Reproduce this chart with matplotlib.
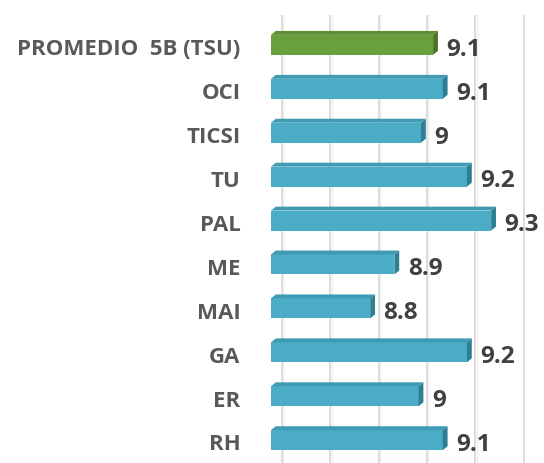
import numpy as np
import matplotlib
matplotlib.use("Agg")
import matplotlib.pyplot as plt
from matplotlib.patches import Polygon

categories = ["PROMEDIO  5B (TSU)", "OCI", "TICSI", "TU", "PAL", "ME", "MAI", "GA", "ER", "RH"]
values = [9.07, 9.11, 9.02, 9.21, 9.31, 8.91, 8.81, 9.21, 9.01, 9.11]
labels = ["9.1", "9.1", "9", "9.2", "9.3", "8.9", "8.8", "9.2", "9", "9.1"]

x_min, x_max = 8.4, 9.45
grid_ticks = [8.4, 8.6, 8.8, 9.0, 9.2, 9.4]

teal = ("#4BACC6", "#3F9AB3", "#2F7F94")    # front, top, side
green = ("#6A9F3E", "#5E8F35", "#4B7429")

fig = plt.figure(figsize=(5.44, 4.63), dpi=100)
ax = fig.add_axes([271 / 544, 0 / 463, 254 / 544, 448 / 463])
ax.set_xlim(x_min, x_max)
ax.set_ylim(-0.52, 9.68)

# back-wall gridlines (shifted for the 3d look)
grid_shift = 0.045
for g in grid_ticks:
    ax.axvline(g + grid_shift, color="#D9D9D9", lw=1.3, zorder=0)
    ax.axvline(g + grid_shift + 0.006, color="#EEEEEE", lw=1.0, zorder=0)

n = len(categories)
ypos = np.arange(n)[::-1]
h = 0.455
dx, dy = 0.02, 0.09
lab_drop = 0.11
font = ["Open Sans", "DejaVu Sans"]

for i, (v, y) in enumerate(zip(values, ypos)):
    front, top, side = green if i == 0 else teal
    ax.barh(y, v - x_min, left=x_min, height=h, color=front, zorder=3)
    y_top = y + h / 2
    y_bot = y - h / 2
    ax.add_patch(Polygon([(x_min, y_top), (v, y_top), (v + dx, y_top + dy),
                          (x_min + dx, y_top + dy)], closed=True,
                         facecolor=top, edgecolor="none", zorder=3))
    ax.add_patch(Polygon([(v, y_bot), (v + dx, y_bot + dy), (v + dx, y_top + dy),
                          (v, y_top)], closed=True,
                         facecolor=side, edgecolor="none", zorder=3))
    ax.text(v + dx + 0.035, y - lab_drop, labels[i], va="center", ha="left",
            fontsize=17.5, fontweight="bold", color="#404040",
            family=font, clip_on=False)
    ax.text(-0.12, y - lab_drop, categories[i], transform=ax.get_yaxis_transform(),
            va="center", ha="right", fontsize=16, fontweight="bold",
            color="#595959", family=font)

ax.set_yticks([])
ax.set_xticks([])
for s in ax.spines.values():
    s.set_visible(False)

fig.savefig("out.png", dpi=100)
